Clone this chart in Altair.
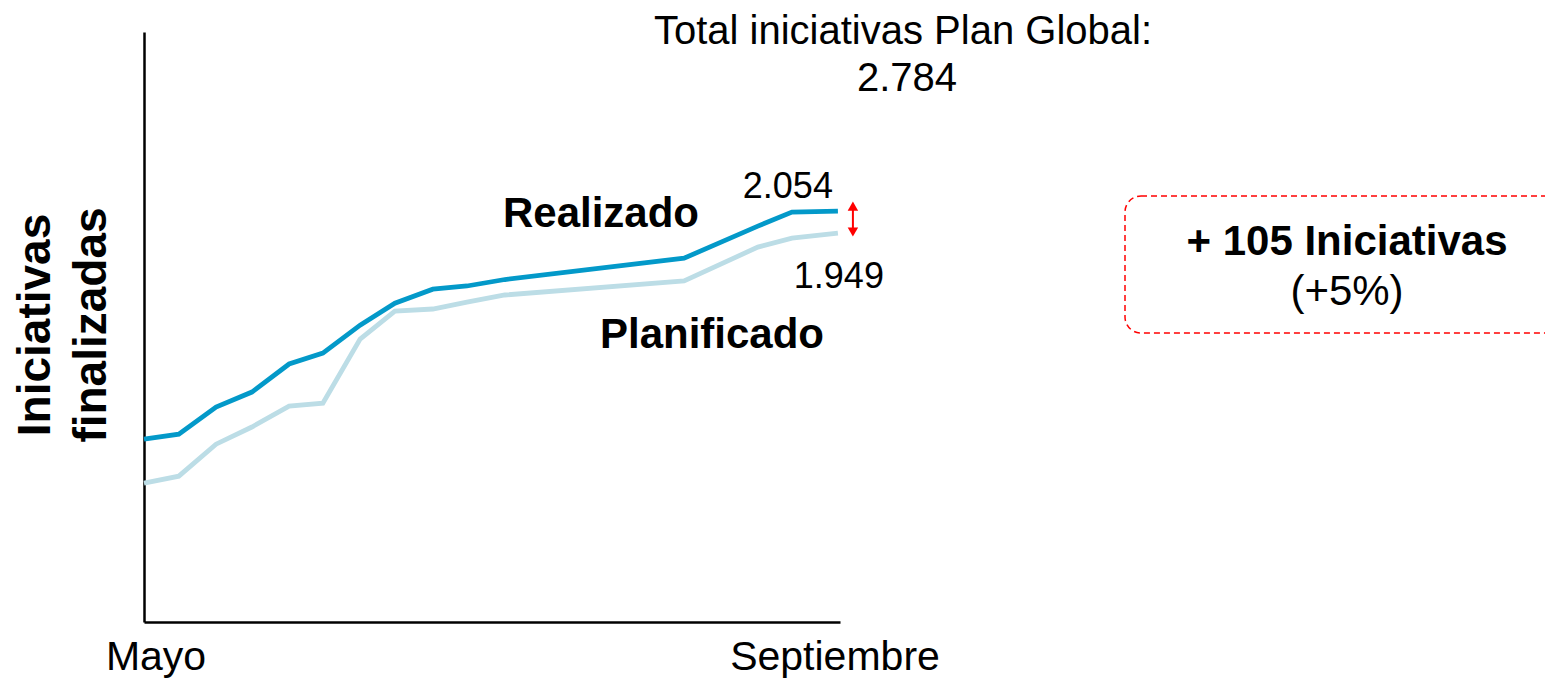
import altair as alt
import pandas as pd

# ---- data ----
semana = [0, 1.0, 2.07, 3.1, 4.17, 5.14, 6.21, 7.21, 8.3, 9.28, 10.37, 15.52, 17.64, 18.62, 19.94]
realizado = [964, 988, 1117, 1189, 1323, 1375, 1509, 1614, 1681, 1696, 1727, 1829, 1982, 2049, 2054]
planificado = [754, 787, 940, 1022, 1122, 1136, 1442, 1576, 1586, 1619, 1653, 1720, 1882, 1925, 1949]
series = ["Planificado", "Realizado"]
colors = ["#bcdde6", "#0399c9"]
x_labels = ["Mayo", "Septiembre"]
total_plan = 2784
FONT = "Liberation Sans"


def fmt(v):
    return f"{v:,}".replace(",", ".")


diff = realizado[-1] - planificado[-1]
pct = round(100 * diff / planificado[-1])

df = pd.DataFrame({
    "semana": semana * 2,
    "valor": planificado + realizado,
    "serie": ["Planificado"] * len(semana) + ["Realizado"] * len(semana),
})

xs = alt.Scale(domain=[0, 20], nice=False, zero=False)
ys = alt.Scale(domain=[90, 2910], nice=False, zero=False)
axis_style = dict(domain=True, ticks=False, labels=False, grid=False, title=None,
                  domainColor="black", domainWidth=2.5)

lines = alt.Chart(df).mark_line(strokeWidth=4.8).encode(
    x=alt.X("semana:Q", scale=xs, axis=alt.Axis(**axis_style)),
    y=alt.Y("valor:Q", scale=ys, axis=alt.Axis(**axis_style)),
    color=alt.Color("serie:N", scale=alt.Scale(domain=series, range=colors), legend=None),
    detail="serie:N",
)

end_df = pd.DataFrame({
    "semana": [semana[-1]],
    "real": [realizado[-1]],
    "plan": [planificado[-1]],
    "real_txt": [fmt(realizado[-1])],
    "plan_txt": [fmt(planificado[-1])],
})

end_real = alt.Chart(end_df).mark_text(font=FONT, fontSize=36, align="right", baseline="alphabetic",
                                       dx=-5, dy=-13, color="black").encode(
    x=alt.X("semana:Q", scale=xs), y=alt.Y("real:Q", scale=ys), text="real_txt:N")
end_plan = alt.Chart(end_df).mark_text(font=FONT, fontSize=36, align="right", baseline="alphabetic",
                                       dx=46, dy=55, color="black").encode(
    x=alt.X("semana:Q", scale=xs), y=alt.Y("plan:Q", scale=ys), text="plan_txt:N")

# red double arrow between the two final values
arrow_rule = alt.Chart(end_df).mark_rule(color="#ff0000", strokeWidth=2, xOffset=15,
                                         yOffset=-5, y2Offset=0).encode(
    x=alt.X("semana:Q", scale=xs), y=alt.Y("real:Q", scale=ys), y2="plan:Q")
arrow_up = alt.Chart(end_df).mark_point(shape="triangle-up", filled=True, color="#ff0000",
                                        size=110, opacity=1, xOffset=15, yOffset=-5).encode(
    x=alt.X("semana:Q", scale=xs), y=alt.Y("real:Q", scale=ys))
arrow_down = alt.Chart(end_df).mark_point(shape="triangle-down", filled=True, color="#ff0000",
                                          size=110, opacity=1, xOffset=15, yOffset=-1).encode(
    x=alt.X("semana:Q", scale=xs), y=alt.Y("plan:Q", scale=ys))

one = pd.DataFrame({"k": [0]})


def label(text, x, y, size, bold=False, angle=0, baseline="alphabetic"):
    return alt.Chart(one).mark_text(
        text=text, font=FONT, fontSize=size, fontWeight="bold" if bold else "normal",
        align="center", baseline=baseline, angle=angle, color="black",
    ).encode(x=alt.value(x), y=alt.value(y))


texts = [
    label("Total iniciativas Plan Global:", 759, 12, 40),
    label(fmt(total_plan), 763, 59, 40),
    label("Realizado", 457, 195, 42, bold=True),
    label("Planificado", 568, 316, 42, bold=True),
    label(f"+ {diff} Iniciativas", 1203, 223, 42, bold=True),
    label(f"(+{pct}%)", 1203, 273, 42),
    label(x_labels[0], 12, 638, 41),
    label(x_labels[1], 691, 638, 41),
    label("Iniciativas", -108, 293, 46, bold=True, angle=270, baseline="middle"),
    label("finalizadas", -52, 293, 46, bold=True, angle=270, baseline="middle"),
]

box = alt.Chart(one).mark_rect(
    fill=None, fillOpacity=0, stroke="#ff0000", strokeWidth=1.5, strokeDash=[6, 4], cornerRadius=16,
).encode(x=alt.value(981), x2=alt.value(1440), y=alt.value(164), y2=alt.value(301))

chart = alt.layer(lines, end_real, end_plan, arrow_rule, arrow_up, arrow_down, box, *texts).properties(
    width=696, height=590,
    background="white",
    padding={"left": 136, "top": 24, "right": 705, "bottom": 57},
    autosize=alt.AutoSizeParams(type="none"),
).configure_view(strokeWidth=0, stroke=None)

chart.save("out.html", embed_options={"renderer": "svg", "actions": False})
